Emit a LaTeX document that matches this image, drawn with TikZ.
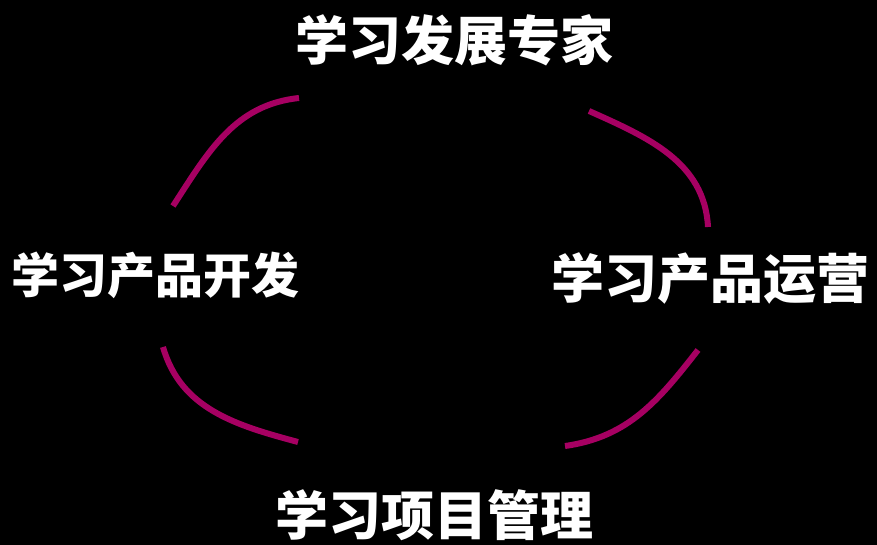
\documentclass[tikz,border=0pt]{standalone}
\usepackage{fontspec}
\newfontfamily\cjk{Noto Sans CJK SC}
\usetikzlibrary{positioning}
\definecolor{cmagenta}{HTML}{A60062}

\begin{document}
\begin{tikzpicture}[x=1pt, y=1pt,
  role/.style={text=white, font=\cjk\bfseries\fontsize{53}{60}\selectfont, inner sep=0pt},
  ring/.style={draw=cmagenta, line width=6pt}]

% Background (fixes the page size)
\fill[black] (0,0) rectangle (877,545);

% ============================================================
% The four roles
\node[role] (expert) at (454, 505) {学习发展专家};
\node[role, font=\cjk\bfseries\fontsize{48}{56}\selectfont] (dev) at (155, 270) {学习产品开发};
\node[role] (ops) at (710, 267) {学习产品运营};
\node[role] (pm) at (434, 30) {学习项目管理};

% ============================================================
% Arc pieces of the ring between the roles
\draw[ring] (173, 339) to[out=57, in=186] (299, 447);   % dev -> expert
\draw[ring] (589, 434) to[out=-24, in=93] (708, 318);   % expert -> ops
\draw[ring] (698, 195) to[out=232, in=8] (565, 99);     % ops -> pm
\draw[ring] (298, 103) to[out=165, in=-74] (163, 198);  % pm -> dev

\end{tikzpicture}
\end{document}
